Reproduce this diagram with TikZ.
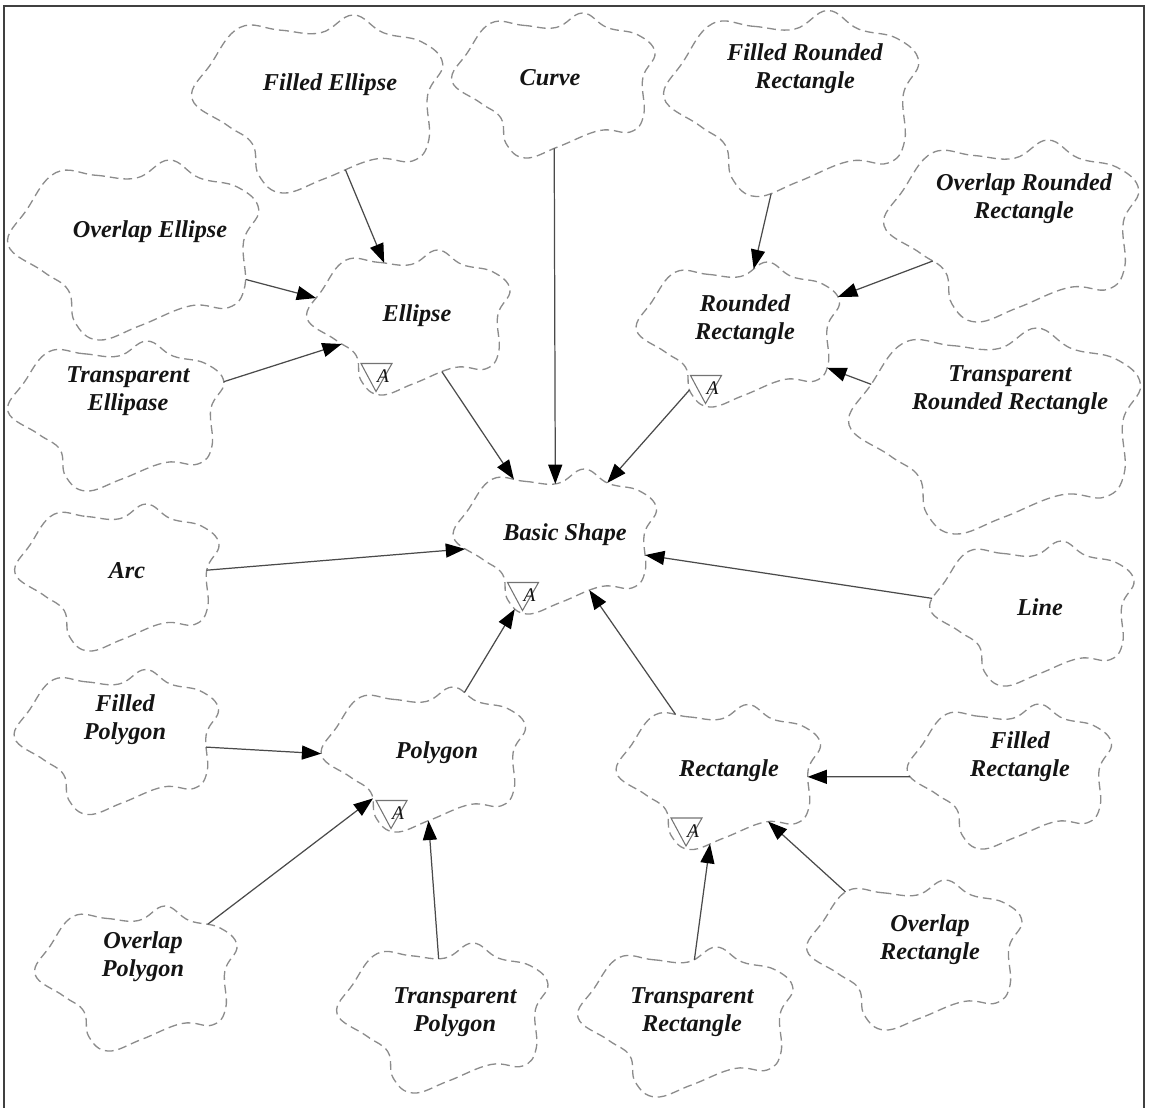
\documentclass[tikz,border=0pt]{standalone}
\usepackage{fontspec}
\setmainfont{Liberation Serif}
\usetikzlibrary{arrows.meta,intersections}

\definecolor{outline}{HTML}{8C8C8C}
\definecolor{wire}{HTML}{4A4A4A}
\definecolor{ink}{HTML}{141414}

\tikzset{
  hub/.style={inner sep=0pt, minimum size=0pt},
  lbl/.style={font=\fontsize{13.8}{15.9}\selectfont\bfseries\itshape,
    align=center, text=ink, inner sep=0pt},
  blobline/.style={draw=outline, line width=0.75pt, dash pattern=on 5pt off 2.8pt},
  conn/.style={draw=wire, line width=0.7pt,
    -{Triangle[length=11pt,width=8pt,color=black]}},
  markline/.style={draw=black!55, line width=0.6pt},
  mk/.style={font=\fontsize{11}{11}\selectfont\itshape, text=ink, inner sep=0pt},
  frame/.style={draw=black!75, line width=1.2pt}
}

% wavy outline around a hub node, half width #2, half height #3
\newcommand\drawblob[3]{%
  \begin{scope}[shift={(#1.center)}, xscale=#2, yscale=#3]
    \path[blobline, name path global=blob-#1] plot[smooth cycle, tension=0.7] coordinates {
      (-0.62,-0.86) (-0.30,-0.83) (0.02,-0.80) (0.28,-1.0) (0.52,-0.80)
      (0.82,-0.70) (0.99,-0.45) (0.87,-0.10) (0.88,0.40) (0.75,0.64)
      (0.45,0.62) (0.05,0.84) (-0.28,1.0) (-0.47,0.80) (-0.52,0.45)
      (-0.72,0.24) (-1.0,-0.06) (-0.85,-0.45)};
  \end{scope}}

% arrow from outline of #1 to outline of #2 along the line of centres
\newcommand\blobedge[2]{%
  \path[name path=edge-#1-#2] (#1.center) -- (#2.center);
  \path[name intersections={of=edge-#1-#2 and blob-#1, by={#1-#2-s}}];
  \path[name intersections={of=edge-#1-#2 and blob-#2, by={#1-#2-t}}];
  \draw[conn] (#1-#2-s) -- (#1-#2-t);}

% abstract marker: small triangle with an A
\newcommand\abstractmark[1]{%
  \begin{scope}[shift={(#1.center)}]
    \draw[markline] (-48,41) -- (-17,41) -- (-33,69) -- cycle;
    \node[mk] (#1-a) at (-26,54) {A};
  \end{scope}}

\begin{document}
\begin{tikzpicture}[x=0.02cm, y=-0.02cm]
\useasboundingbox (0,0) rectangle (1151,1107);
\draw[frame] (4,6) rectangle (1144,1125);

% centres of the shapes
\node[hub] (fe)  at (318,104) {};
\node[hub] (cu)  at (554,85.5) {};
\node[hub] (frr) at (792,103.5) {};
\node[hub] (oe)  at (134,250) {};
\node[hub] (orr) at (1012,231) {};
\node[hub] (el)  at (409,322.5) {};
\node[hub] (rr)  at (738.5,334.5) {};
\node[hub] (te)  at (116.5,416) {};
\node[hub] (trr) at (995.5,431) {};
\node[hub] (bs)  at (555.5,541.5) {};
\node[hub] (arc) at (117.5,577.5) {};
\node[hub] (ln)  at (1032.5,613.5) {};
\node[hub] (fp)  at (117,742) {};
\node[hub] (pg)  at (424,759.5) {};
\node[hub] (re)  at (719,777) {};
\node[hub] (fr)  at (1010,776.5) {};
\node[hub] (op)  at (136.5,978.5) {};
\node[hub] (tp)  at (443,1018) {};
\node[hub] (tr)  at (686,1022) {};
\node[hub] (or)  at (915,955) {};

% outlines
\drawblob{fe}{126}{89}
\drawblob{cu}{102}{72.5}
\drawblob{frr}{128}{93}
\drawblob{oe}{126}{90}
\drawblob{orr}{128}{91}
\drawblob{el}{102}{72.5}
\drawblob{rr}{102}{72.5}
\drawblob{te}{108.5}{75}
\drawblob{trr}{146.5}{103}
\drawblob{bs}{102}{72.5}
\drawblob{arc}{102.5}{73.5}
\drawblob{ln}{102.5}{72.5}
\drawblob{fp}{102.5}{72.5}
\drawblob{pg}{102.5}{72.5}
\drawblob{re}{102.5}{72.5}
\drawblob{fr}{102.5}{72.5}
\drawblob{op}{101.5}{72.5}
\drawblob{tp}{106}{75}
\drawblob{tr}{108}{75}
\drawblob{or}{108}{75}

% labels
\node[lbl] (fe-t)  at (330,85)   {Filled Ellipse};
\node[lbl] (cu-t)  at (550,78)   {Curve};
\node[lbl] (frr-t) at (805,69)   {Filled Rounded\\Rectangle};
\node[lbl] (oe-t)  at (150,232)  {Overlap Ellipse};
\node[lbl] (orr-t) at (1024,199) {Overlap Rounded\\Rectangle};
\node[lbl] (el-t)  at (417,316)  {Ellipse};
\node[lbl] (rr-t)  at (745,320)  {Rounded\\Rectangle};
\node[lbl] (te-t)  at (128,391)  {Transparent\\Ellipase};
\node[lbl] (trr-t) at (1010,390) {Transparent\\Rounded Rectangle};
\node[lbl] (bs-t)  at (565,535)  {Basic Shape};
\node[lbl] (arc-t) at (127,571)  {Arc};
\node[lbl] (ln-t)  at (1040,607) {Line};
\node[lbl] (fp-t)  at (125,720)  {Filled\\Polygon};
\node[lbl] (pg-t)  at (437,753)  {Polygon};
\node[lbl] (re-t)  at (729,771)  {Rectangle};
\node[lbl] (fr-t)  at (1020,757) {Filled\\Rectangle};
\node[lbl] (op-t)  at (143,957)  {Overlap\\Polygon};
\node[lbl] (tp-t)  at (455,1012) {Transparent\\Polygon};
\node[lbl] (tr-t)  at (692,1012) {Transparent\\Rectangle};
\node[lbl] (or-t)  at (930,940)  {Overlap\\Rectangle};

% abstract markers
\abstractmark{el}
\abstractmark{rr}
\abstractmark{bs}
\abstractmark{pg}
\abstractmark{re}

% generalisation arrows
\blobedge{fe}{el}
\blobedge{oe}{el}
\blobedge{te}{el}
\blobedge{el}{bs}
\blobedge{cu}{bs}
\blobedge{frr}{rr}
\blobedge{orr}{rr}
\blobedge{trr}{rr}
\blobedge{rr}{bs}
\blobedge{arc}{bs}
\blobedge{ln}{bs}
\blobedge{pg}{bs}
\blobedge{re}{bs}
\blobedge{fp}{pg}
\blobedge{op}{pg}
\blobedge{tp}{pg}
\blobedge{fr}{re}
\blobedge{tr}{re}
\blobedge{or}{re}
\end{tikzpicture}
\end{document}
